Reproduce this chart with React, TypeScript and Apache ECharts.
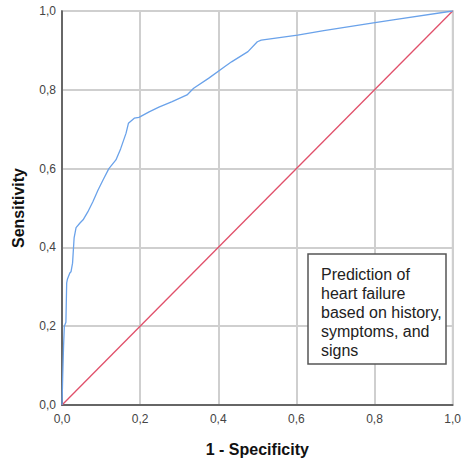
import React, { useEffect, useRef } from "react";
import * as echarts from "echarts";

const fpr = [0, 0.002, 0.004, 0.006, 0.01, 0.012, 0.014, 0.02, 0.023, 0.027, 0.031, 0.036, 0.046, 0.054, 0.066, 0.079, 0.092, 0.105, 0.12, 0.138, 0.15, 0.164, 0.17, 0.185, 0.197, 0.223, 0.248, 0.282, 0.32, 0.337, 0.375, 0.417, 0.434, 0.476, 0.5, 0.51, 0.603, 0.67, 0.797, 0.856, 1];
const tpr = [0, 0.08, 0.15, 0.2, 0.21, 0.31, 0.32, 0.335, 0.338, 0.36, 0.424, 0.45, 0.462, 0.47, 0.49, 0.516, 0.545, 0.571, 0.6, 0.622, 0.65, 0.69, 0.715, 0.728, 0.73, 0.744, 0.756, 0.77, 0.787, 0.804, 0.829, 0.859, 0.871, 0.897, 0.922, 0.926, 0.939, 0.95, 0.97, 0.979, 1];
const refX = [0, 1];
const refY = [0, 1];
const xName = "1 - Specificity";
const yName = "Sensitivity";
const noteText = "Prediction of\nheart failure\nbased on history,\nsymptoms, and\nsigns";

const FONT = "'Liberation Sans', Arial, sans-serif";
const fmt = (v: number) => v.toFixed(1).replace(".", ",");

export default function App() {
  const ref = useRef<HTMLDivElement>(null);
  useEffect(() => {
    if (!ref.current) return;
    const chart = echarts.init(ref.current, undefined, { renderer: "svg" });
    const axisCommon = {
      type: "value" as const,
      min: 0,
      max: 1,
      interval: 0.2,
      nameLocation: "middle" as const,
      nameTextStyle: { fontFamily: FONT, fontSize: 16, fontWeight: "bold" as const, color: "#111" },
      axisLine: { show: true, lineStyle: { color: "#444", width: 1.5 } },
      axisTick: { show: false },
      axisLabel: { fontFamily: FONT, fontSize: 12, color: "#444", formatter: fmt },
      splitLine: { show: true, lineStyle: { color: "#cfcfcf", width: 2 } },
    };
    chart.setOption({
      animation: false,
      backgroundColor: "#fff",
      grid: { left: 62, right: 7, top: 11, bottom: 60, show: true, borderColor: "#888", borderWidth: 1.5 },
      xAxis: { ...axisCommon, name: xName, nameGap: 36, axisLabel: { ...axisCommon.axisLabel, margin: 8 } },
      yAxis: { ...axisCommon, name: yName, nameGap: 36, axisLabel: { ...axisCommon.axisLabel, margin: 6 } },
      series: [
        {
          type: "line",
          data: fpr.map((x, i) => [x, tpr[i]]),
          showSymbol: false,
          lineStyle: { color: "#6aa2ea", width: 1.3 },
          z: 3,
        },
        {
          type: "line",
          data: refX.map((x, i) => [x, refY[i]]),
          showSymbol: false,
          lineStyle: { color: "#e0506a", width: 1.3 },
          z: 2,
        },
      ],
      graphic: [
        {
          type: "rect",
          shape: { x: 308, y: 254, width: 138, height: 110 },
          style: { fill: "#fff", stroke: "#555", lineWidth: 1.5 },
          z: 10,
        },
        {
          type: "text",
          x: 321,
          y: 265,
          style: {
            text: noteText,
            font: `16px ${FONT}`,
            fill: "#222",
            lineHeight: 19,
            textVerticalAlign: "top",
          },
          z: 11,
        },
      ],
    });
    return () => chart.dispose();
  }, []);
  return <div ref={ref} style={{ position: "absolute", left: 0, top: 0, width: 464, height: 465 }} />;
}
